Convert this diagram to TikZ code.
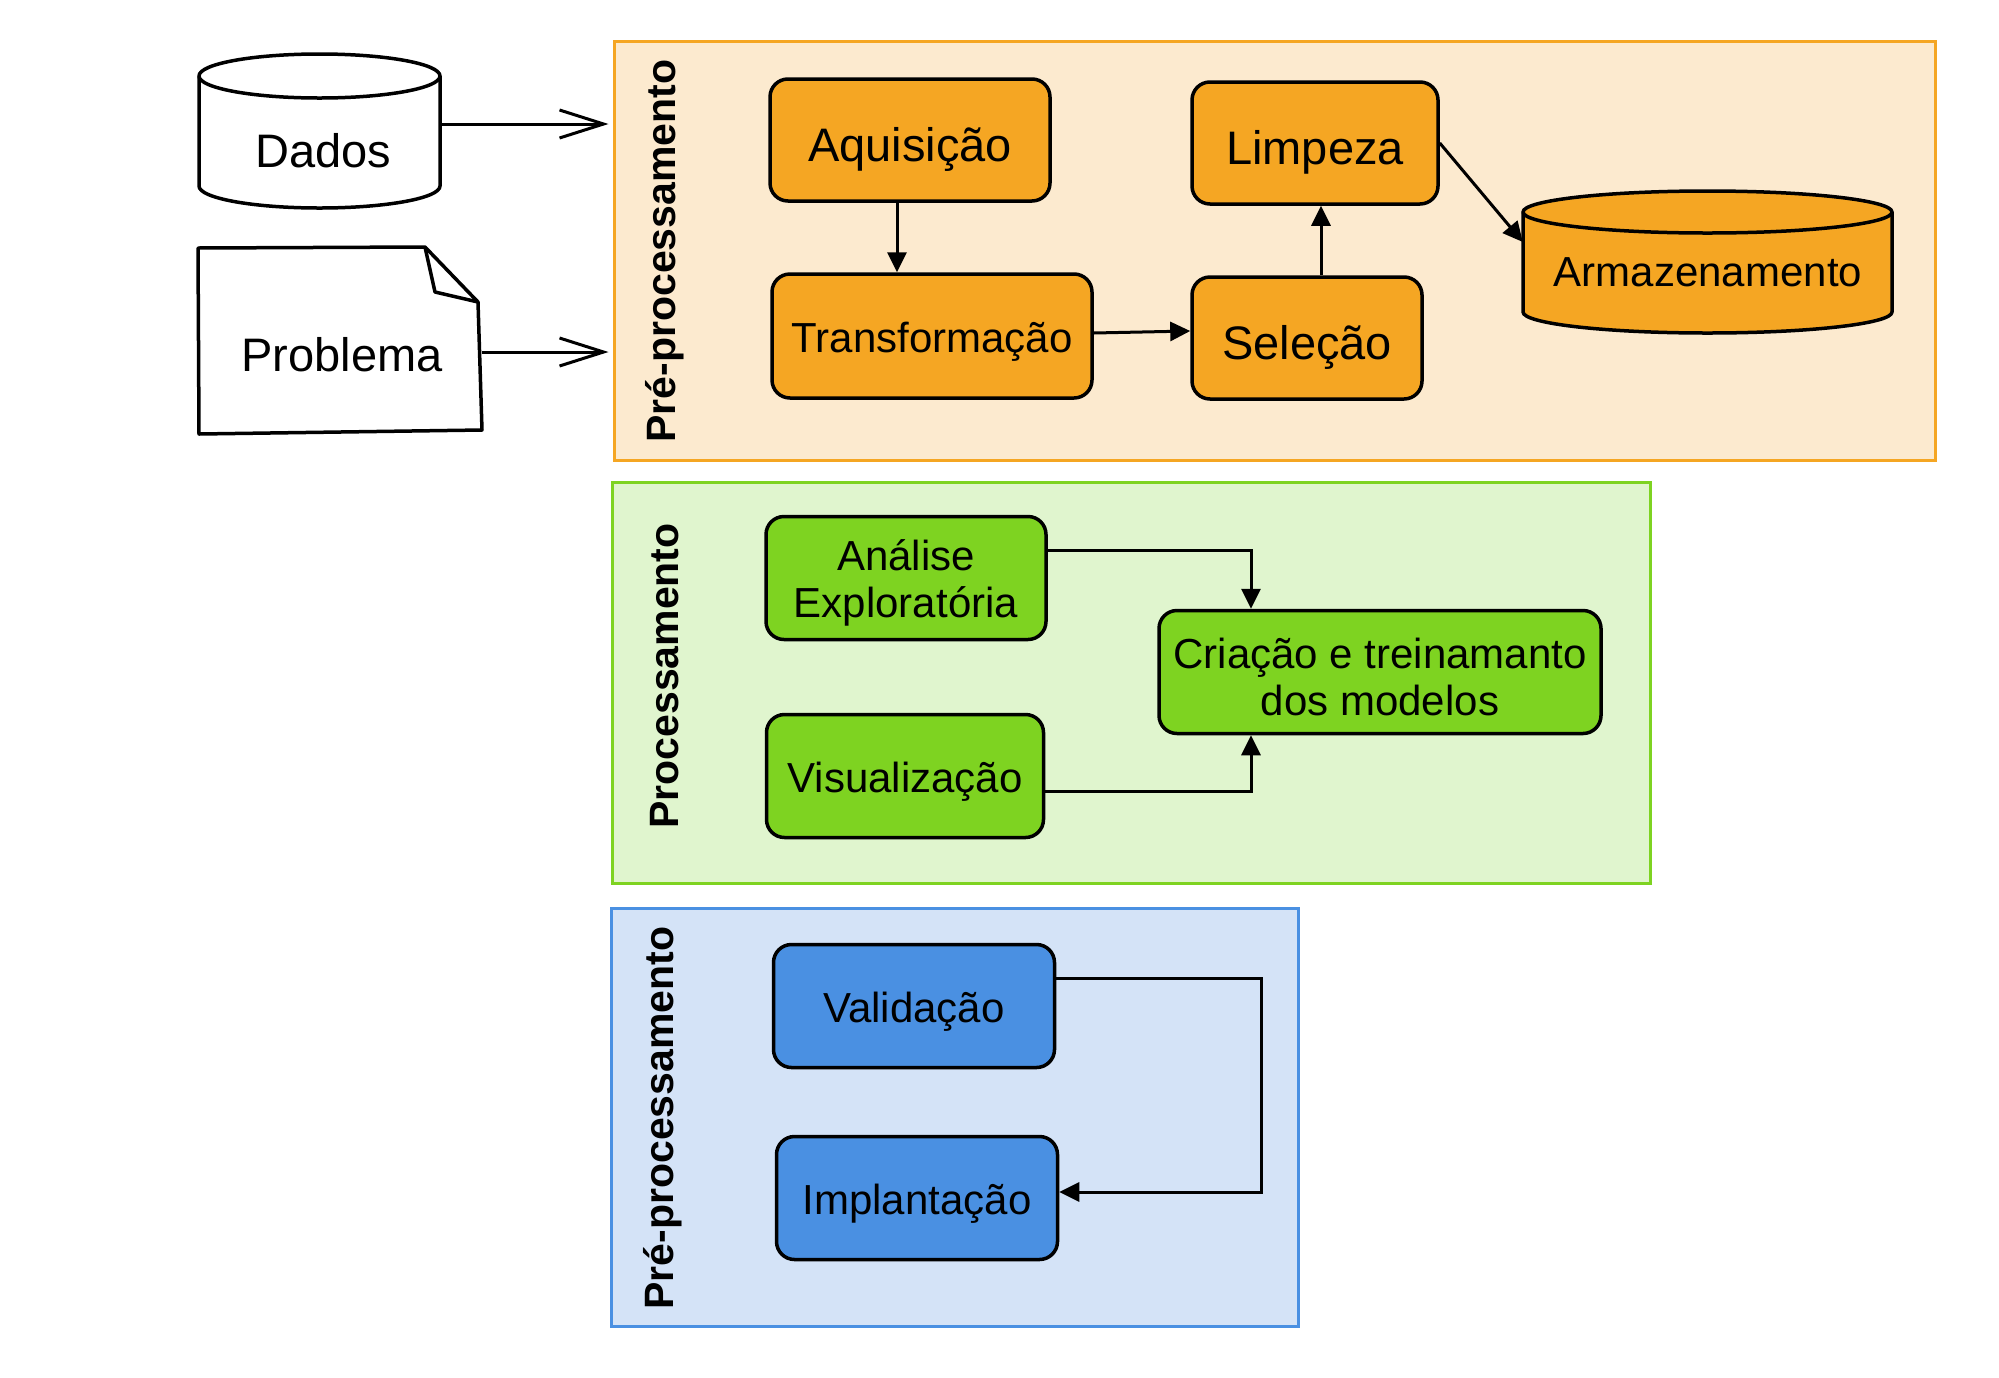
\documentclass[tikz,border=0pt]{standalone}
\usepackage{fontspec}
\setmainfont{Liberation Sans}
\usetikzlibrary{arrows.meta,calc}
\definecolor{orfill}{HTML}{F5A623}
\definecolor{orbg}{HTML}{FCEACF}
\definecolor{grfill}{HTML}{7ED321}
\definecolor{grbg}{HTML}{E0F5CE}
\definecolor{blfill}{HTML}{4A90E2}
\definecolor{blbg}{HTML}{D4E3F7}
\begin{document}
\begin{tikzpicture}[x=1pt,y=-1pt,
  rbox/.style={draw=black, line width=3.5pt, rounded corners=18pt, inner sep=0pt,
    align=center, font=\fontsize{42}{47}\selectfont},
  one/.style={text height=32pt, text depth=0pt},
  big/.style={font=\fontsize{47}{52}\selectfont, text height=42pt, text depth=0pt},
  ctr/.style={line width=3pt, inner sep=0pt},
  lbl/.style={rotate=90, inner sep=0pt, font=\fontsize{41}{45}\selectfont\bfseries},
  ghost/.style={inner sep=0pt},
  txt/.style={inner sep=0pt, anchor=base, font=\fontsize{42}{46}\selectfont},
  bigtxt/.style={inner sep=0pt, anchor=base, font=\fontsize{47}{52}\selectfont},
  shp/.style={line width=3.5pt, line join=round},
  arr/.style={line width=3pt, -{Triangle[length=20pt,width=19pt]}},
  oarr/.style={line width=3pt, shorten >=4pt, -{Straight Barb[length=44pt,width=28pt]}}
]
\useasboundingbox (0,0) rectangle (1999,1377);

% containers
\node[ctr, draw=orfill, fill=orbg, minimum width=1321pt, minimum height=419pt] (pre) at (1274.5,250.5) {};
\node[ctr, draw=grfill, fill=grbg, minimum width=1038pt, minimum height=401pt] (proc) at (1131,682.5) {};
\node[ctr, draw=blfill, fill=blbg, minimum width=687pt, minimum height=418pt] (pos) at (954.5,1117) {};

\node[lbl] (prelbl) at (665,251) {Pré-processamento};
\node[lbl] (proclbl) at (665,676) {Processamento};
\node[lbl] (poslbl) at (663,1118) {Pré-processamento};

% Dados cylinder
\node[ghost, minimum width=241pt, minimum height=155pt] (dados) at (319.5,130.5) {};
\draw[shp] (199,76) -- (199,186) arc[start angle=180,end angle=0,x radius=120.5,y radius=22]
  -- (440,76) arc[start angle=0,end angle=-180,x radius=120.5,y radius=22] -- cycle;
\draw[shp] (199,76) arc[start angle=180,end angle=0,x radius=120.5,y radius=22];
\node[bigtxt] (dadostxt) at (323,167) {Dados};

% Problema document
\node[ghost, minimum width=284pt, minimum height=186pt] (prob) at (340,340) {};
\draw[shp] (198,248) -- (425,247) -- (478,302) -- (482,430) -- (199,434) -- cycle;
\draw[shp] (425,247) -- (435,292) -- (478,302);
\node[bigtxt] (probtxt) at (342,371) {Problema};

\draw[oarr] ([yshift=6.5pt]dados.east) -- ([yshift=6.5pt]dados.east -| pre.west);
\draw[oarr] ([yshift=-12pt]prob.east) -- ([yshift=-12pt]prob.east -| pre.west);

% orange nodes
\node[rbox, big, fill=orfill, minimum width=280pt, minimum height=122pt] (aq) at (910,140) {Aquisição};
\node[rbox, one, fill=orfill, minimum width=320pt, minimum height=124pt] (tr) at (932,336) {Transformação};
\node[rbox, big, fill=orfill, minimum width=246pt, minimum height=122pt] (li) at (1315,143) {Limpeza};
\node[rbox, big, fill=orfill, minimum width=230pt, minimum height=122pt] (se) at (1307,338) {Seleção};

% Armazenamento cylinder
\node[ghost, minimum width=369pt, minimum height=142pt] (arm) at (1707.5,262) {};
\filldraw[shp, fill=orfill] (1523,212) -- (1523,312) arc[start angle=180,end angle=0,x radius=184.5,y radius=21]
  -- (1892,212) arc[start angle=0,end angle=-180,x radius=184.5,y radius=21] -- cycle;
\draw[shp] (1523,212) arc[start angle=180,end angle=0,x radius=184.5,y radius=21];
\node[txt] (armtxt) at (1708,286) {Armazenamento};

\draw[arr] ([xshift=-13pt]aq.south) -- ([xshift=-13pt]aq.south |- tr.north);
\draw[arr] ([yshift=3pt]tr.east) -- ([yshift=7pt]se.west);
\draw[arr] ([xshift=14pt]se.north) -- ([xshift=14pt]se.north |- li.south);
\draw[arr] (li.east) -- ([yshift=20pt]arm.west);

% green nodes
\node[rbox, fill=grfill, minimum width=280pt, minimum height=123pt] (ae) at (906,578) {\rule{0pt}{40pt}Análise\\Exploratória};
\node[rbox, one, fill=grfill, minimum width=277pt, minimum height=123pt] (vi) at (905,776) {Visualização};
\node[rbox, fill=grfill, minimum width=442pt, minimum height=123pt] (cr) at (1380,672) {\rule{0pt}{40pt}Criação e treinamanto\\dos modelos};

\draw[arr] ([yshift=28pt]ae.east) -| ([xshift=-129pt]cr.north);
\draw[arr] ([yshift=-15pt]vi.east) -| ([xshift=-129pt]cr.south);

% blue nodes
\node[rbox, one, fill=blfill, minimum width=281pt, minimum height=123pt] (va) at (914,1006) {Validação};
\node[rbox, one, fill=blfill, minimum width=281pt, minimum height=123pt] (im) at (917,1198) {Implantação};

\draw[arr] ([yshift=28pt]va.east) -- ++(205,0) |- ([yshift=6pt]im.east);
\end{tikzpicture}
\end{document}
